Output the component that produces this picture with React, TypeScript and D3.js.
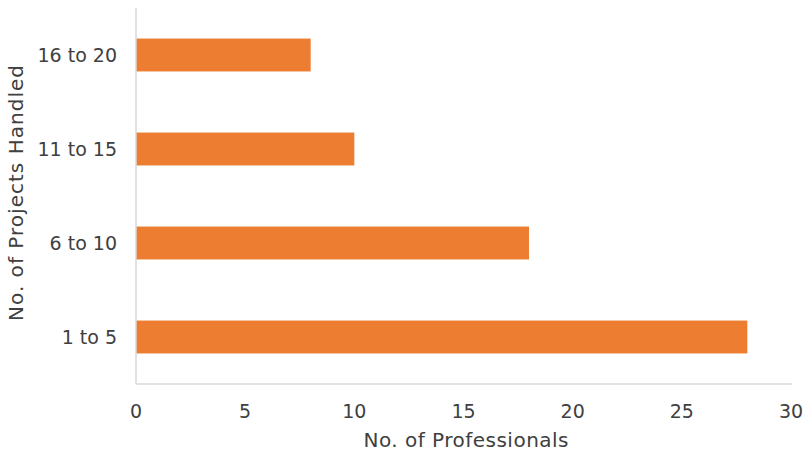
import React from "react";
import * as d3 from "d3";

const categories = ["1 to 5", "6 to 10", "11 to 15", "16 to 20"];
const values = [28, 18, 10, 8];
const xTicks = [0, 5, 10, 15, 20, 25, 30];

export default function App() {
  const W = 808, H = 459;
  const left = 136, right = 791, top = 8, bottom = 384;
  const x = d3.scaleLinear().domain([0, 30]).range([left, right]);
  const y = d3.scaleBand().domain(categories).range([bottom, top]).paddingInner(0.65).paddingOuter(0.325);
  const font = "'DejaVu Sans', sans-serif";
  return (
    <svg width={W} height={H} style={{ position: "absolute", left: 0, top: 0, background: "#fff" }}>
      <g>
        {categories.map((c, i) => (
          <rect key={c} x={x(0)} y={y(c)!} width={x(values[i]) - x(0)} height={y.bandwidth()} fill="#ED7D31" />
        ))}
      </g>
      <line x1={left} x2={left} y1={top} y2={bottom} stroke="#d9d9d9" strokeWidth={1.5} />
      <line x1={left} x2={right + 1} y1={bottom} y2={bottom} stroke="#d9d9d9" strokeWidth={1.5} />
      {xTicks.map(t => (
        <text key={t} x={x(t)} y={412} textAnchor="middle" dominantBaseline="middle" fontFamily={font} fontSize={19} fill="#404040">{t}</text>
      ))}
      {categories.map(c => (
        <text key={c} x={117} y={y(c)! + y.bandwidth() / 2 + 1} textAnchor="end" dominantBaseline="middle" fontFamily={font} fontSize={19} fill="#404040">{c}</text>
      ))}
      <text x={466} y={441} textAnchor="middle" dominantBaseline="middle" fontFamily={font} fontSize={20} textLength={205} lengthAdjust="spacing" fill="#404040">No. of Professionals</text>
      <text transform={`translate(17, 193) rotate(-90)`} textAnchor="middle" dominantBaseline="middle" fontFamily={font} fontSize={20} textLength={256} lengthAdjust="spacing" fill="#404040">No. of Projects Handled</text>
    </svg>
  );
}
